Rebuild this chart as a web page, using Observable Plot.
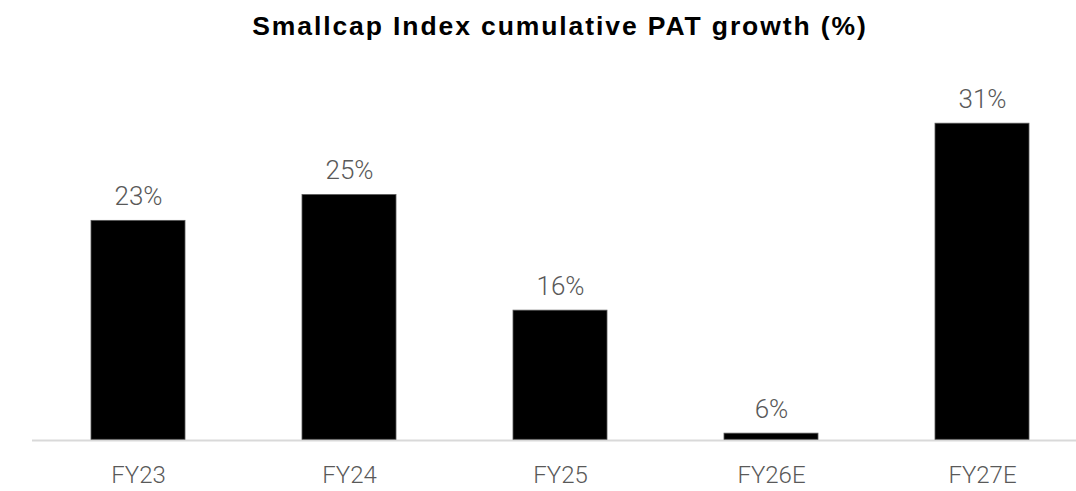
<!DOCTYPE html>
<html>
<head>
<meta charset="utf-8">
<script src="https://cdn.jsdelivr.net/npm/d3@7"></script>
<script src="https://cdn.jsdelivr.net/npm/@observablehq/plot@0.6"></script>
<style>
  html, body { margin: 0; padding: 0; background: #fff; }
  #title {
    height: 47.5px; padding-top: 12.5px; padding-left: 44px;
    box-sizing: content-box;
    font: bold 26.5px "Liberation Sans", Arial, sans-serif;
    letter-spacing: 1.9px; line-height: 26.5px;
    text-align: center; color: #000; white-space: nowrap;
  }
  #chart svg { display: block; overflow: hidden; }
</style>
</head>
<body>
<div id="title">Smallcap Index cumulative PAT growth (%)</div>
<div id="chart"></div>
<script>
const categories = ["FY23", "FY24", "FY25", "FY26E", "FY27E"];
const growth = [23.3, 25.4, 16.0, 6.0, 31.2];

const base = 5.5;
const data = categories.map((c, i) => ({category: c, value: growth[i]}));
const fmt = d => d3.format(".0f")(d) + "%";

const chart = Plot.plot({
  width: 1076,
  height: 431,
  marginTop: 16.45,
  marginBottom: 51.7,
  marginLeft: 32,
  marginRight: 0,
  style: {background: "#fff", overflow: "hidden"},
  x: {domain: categories, range: [32, 1088.5], paddingInner: 0.555, paddingOuter: 0.2775, label: null},
  y: {domain: [base, 35], axis: null},
  marks: [
    Plot.ruleY([base], {stroke: "#d9d9d9", strokeWidth: 2, dy: 0.7}),
    Plot.barY(data, {x: "category", y1: () => base, y2: "value", fill: "#000", stroke: "#595959", strokeWidth: 0.8}),
    Plot.text(data, {x: "category", y: "value", text: d => fmt(d.value), dy: -15.7, lineAnchor: "bottom",
      fontSize: 26, fill: "#595959", fontWeight: 300, fontFamily: "Roboto"}),
    Plot.axisX({tickSize: 0, tickPadding: 26, fontSize: 24, fill: "#595959", fontWeight: 300, fontFamily: "Roboto", label: null})
  ]
});
document.getElementById("chart").appendChild(chart);
</script>
</body>
</html>
